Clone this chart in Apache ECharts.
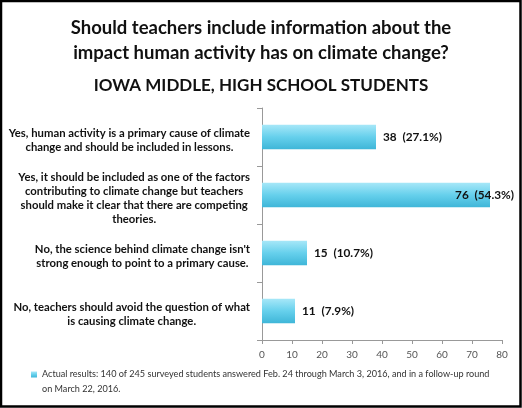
<!DOCTYPE html>
<html>
<head>
<meta charset="utf-8">
<script src="https://cdn.jsdelivr.net/npm/echarts@6/dist/echarts.min.js"></script>
<style>
  html, body { margin: 0; padding: 0; background: #fff; }
  #chart { width: 522px; height: 408px; }
</style>
</head>
<body>
<div id="chart"></div>
<script>
  // answers, wrapped as in the original
  const categories = [
    "Yes, human activity is a primary cause of climate\nchange and should be included in lessons.",
    "Yes, it should be included as one of the factors\ncontributing to climate change but teachers\nshould make it clear that there are competing\ntheories.",
    "No, the science behind climate change isn't\nstrong enough to point to a primary cause.",
    "No, teachers should avoid the question of what\nis causing climate change."
  ];
  const counts = [38, 76, 15, 11];
  const percents = ['27.1%', '54.3%', '10.7%', '7.9%'];
  const xTicks = [0, 10, 20, 30, 40, 50, 60, 70, 80];
  const seriesName = 'Actual results: 140 of 245 surveyed students answered Feb. 24 through March 3, 2016, and in a follow-up round\non March 22, 2016.';

  const FONT = 'Lato';
  const LABEL_SIZE = 11.3;
  const chart = echarts.init(document.getElementById('chart'));

  // centre every line of a label against its widest line:
  // lines are right-aligned, so a right padding pulls the shorter ones in
  const ctx = document.createElement('canvas').getContext('2d');
  ctx.font = 'bold ' + LABEL_SIZE + 'px ' + FONT;
  const rich = {};
  categories.forEach((c, i) => {
    const lines = c.split('\n');
    const widths = lines.map((l) => ctx.measureText(l).width);
    const w = Math.max(...widths);
    lines.forEach((l, j) => {
      rich['c' + i + '_' + j] = {
        padding: [0, (w - widths[j]) / 2, 0, 0],
        fontSize: LABEL_SIZE,
        fontWeight: 'bold',
        lineHeight: 14,
        color: '#111',
        fontFamily: FONT,
      };
    });
  });

  const barColor = new echarts.graphic.LinearGradient(0, 0, 0, 1, [
    { offset: 0, color: '#a6e7f8' },
    { offset: 0.5, color: '#66d0ec' },
    { offset: 1, color: '#3fb6d8' },
  ]);

  const option = {
    animation: false,
    textStyle: { fontFamily: FONT },
    title: [
      {
        text: 'Should teachers include information about the\nimpact human activity has on climate change?',
        left: 'center',
        top: 11,
        textStyle: { fontSize: 18.5, fontWeight: 'bold', color: '#111', lineHeight: 25, fontFamily: FONT },
      },
      {
        text: 'IOWA MIDDLE, HIGH SCHOOL STUDENTS',
        left: 'center',
        top: 72,
        textStyle: { fontSize: 17, fontWeight: 'bold', color: '#111', fontFamily: FONT },
      },
    ],
    legend: {
      left: 26,
      top: 347,
      icon: 'rect',
      itemWidth: 6,
      itemHeight: 6,
      // blank first line keeps the marker level with the first text line
      formatter: (name) => '\n' + name,
      textStyle: { fontSize: 9.1, color: '#333', lineHeight: 15, fontFamily: FONT },
    },
    grid: { left: 262, right: 20, top: 108, bottom: 68 },
    xAxis: {
      type: 'value',
      min: 0,
      max: 80,
      interval: 10,
      splitLine: { show: false },
      axisLine: { show: true, lineStyle: { color: '#999' } },
      axisTick: { show: true, length: 4, lineStyle: { color: '#999' } },
      axisLabel: {
        fontSize: 10,
        color: '#555',
        margin: 10,
        formatter: (v) => (xTicks.includes(v) ? String(v) : ''),
      },
    },
    yAxis: {
      type: 'category',
      inverse: true,
      data: categories,
      axisLine: { show: true, lineStyle: { color: '#999' } },
      axisTick: { show: true, length: 5, lineStyle: { color: '#999' } },
      axisLabel: {
        margin: 12,
        align: 'right',
        padding: [6, 0, 0, 0],
        color: '#111',
        formatter: (v, i) => v.split('\n').map((l, j) => '{c' + i + '_' + j + '|' + l + '}').join('\n'),
        rich: rich,
      },
    },
    series: [
      {
        name: seriesName,
        type: 'bar',
        barCategoryGap: '58%',
        itemStyle: { color: barColor },
        label: {
          show: true,
          position: 'right',
          distance: 7,
          fontSize: 11.8,
          fontWeight: 'bold',
          color: '#111',
          fontFamily: FONT,
          formatter: (p) => p.value + '  (' + percents[p.dataIndex] + ')',
        },
        data: counts.map((v) =>
          v === Math.max(...counts)
            ? { value: v, label: { position: 'insideRight', offset: [31, 0] } }
            : v
        ),
      },
    ],
    graphic: [
      {
        type: 'rect',
        shape: { x: 1, y: 1, width: 519.5, height: 405.5 },
        style: { fill: 'none', stroke: '#000', lineWidth: 2.5 },
        silent: true,
      },
    ],
  };

  chart.setOption(option);
</script>
</body>
</html>
